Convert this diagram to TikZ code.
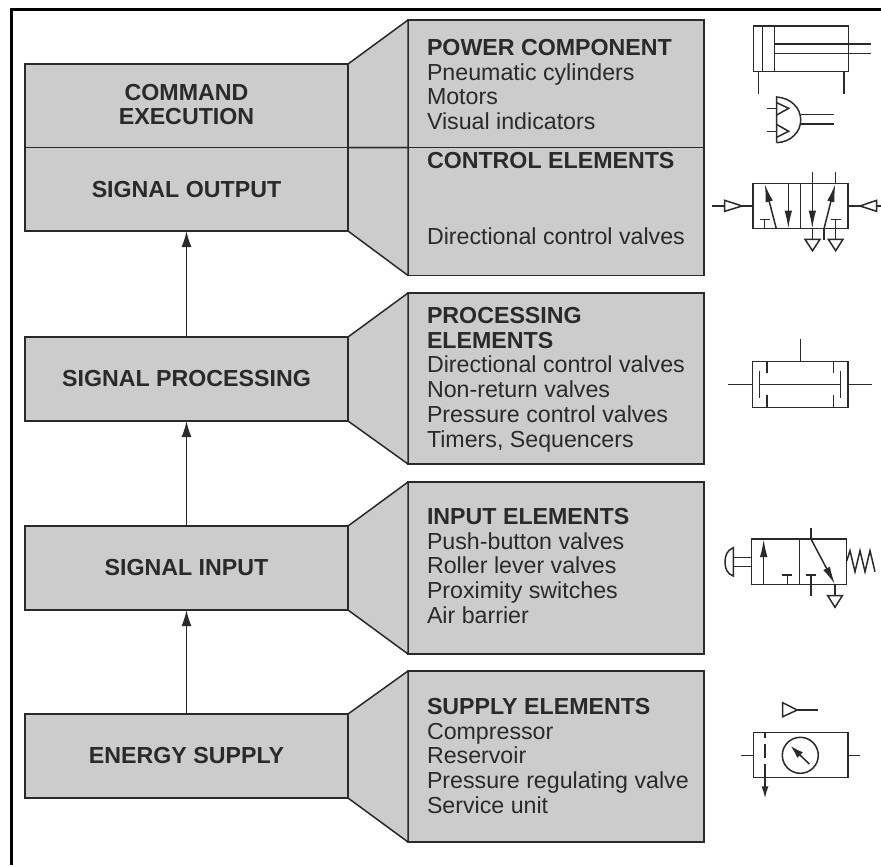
\documentclass[tikz,border=0pt]{standalone}
\usepackage{fontspec}
\setmainfont{Liberation Sans}
\usetikzlibrary{arrows.meta}
\definecolor{boxgray}{HTML}{CCCCCC}
\definecolor{inkdark}{HTML}{2A2A2A}
\tikzset{
  x=1pt,y=-1pt,
  every node/.style={inner sep=0pt,outer sep=0pt,text=inkdark},
  stage/.style={draw=inkdark,line width=1.5pt,fill=boxgray,minimum width=323pt,anchor=north west,align=center,font=\fontsize{23.2}{24.4}\selectfont\bfseries},
  detail/.style={draw=inkdark,line width=1.5pt,fill=boxgray,minimum width=296pt,anchor=north west},
  funnel/.style={draw=inkdark,line width=1.5pt,fill=boxgray,line join=round},
  listing/.style={anchor=north west,align=left,font=\fontsize{23.2}{24.8}\selectfont},
  flow/.style={draw=inkdark,line width=1.5pt,-{Latex[length=16pt,width=10pt]}},
  sym/.style={draw=inkdark,line width=1.5pt,line join=miter},
  head/.style={draw=inkdark,line width=1.5pt,-{Latex[length=18pt,width=7.5pt]}},
}
\begin{document}
\begin{tikzpicture}
\useasboundingbox (0,0) rectangle (881,865);
\fill[white] (0,0) rectangle (881,865);
\draw[black,line width=3pt] (11.5,865) -- (11.5,9) -- (881,9);

% left stages
\node[stage,minimum height=83.5pt] (exec) at (25,64) {\raisebox{3pt}{COMMAND}\\\raisebox{3pt}{EXECUTION}};
\node[stage,minimum height=83.5pt] (out) at (25,147.5) {SIGNAL OUTPUT};
\node[stage,minimum height=84pt] (proc) at (25,337) {SIGNAL PROCESSING};
\node[stage,minimum height=84pt] (inp) at (25,526) {SIGNAL INPUT};
\node[stage,minimum height=84pt] (sup) at (25,714) {ENERGY SUPPLY};

% right detail boxes
\node[detail,minimum height=127.5pt] (dpow) at (408,20) {};
\node[detail,minimum height=128pt] (dctl) at (408,147.5) {};
\node[detail,minimum height=171pt] (dproc) at (408,293) {};
\node[detail,minimum height=172pt] (dinp) at (408,482) {};
\node[detail,minimum height=171pt] (dsup) at (408,671) {};

% funnels
\draw[funnel] (exec.north east) -- (dpow.north west) -- (dpow.south west) -- (exec.south east) -- cycle;
\draw[funnel] (out.north east) -- (dctl.north west) -- (dctl.south west) -- (out.south east) -- cycle;
\draw[funnel] (proc.north east) -- (dproc.north west) -- (dproc.south west) -- (proc.south east) -- cycle;
\draw[funnel] (inp.north east) -- (dinp.north west) -- (dinp.south west) -- (inp.south east) -- cycle;
\draw[funnel] (sup.north east) -- (dsup.north west) -- (dsup.south west) -- (sup.south east) -- cycle;

% flow arrows
\draw[flow] (proc.north) -- (out.south);
\draw[flow] (inp.north) -- (proc.south);
\draw[flow] (sup.north) -- (inp.south);

% listings
\node[listing] (tpow) at (427,39) {\textbf{POWER COMPONENT}\\Pneumatic cylinders\\Motors\\Visual indicators};
\node[listing] (tctl) at (427,152) {\textbf{CONTROL ELEMENTS}\\[51.2pt]Directional control valves};
\node[listing] (tproc) at (427,307) {\textbf{PROCESSING}\\\textbf{ELEMENTS}\\Directional control valves\\Non-return valves\\Pressure control valves\\Timers, Sequencers};
\node[listing] (tinp) at (427,508) {\textbf{INPUT ELEMENTS}\\Push-button valves\\Roller lever valves\\Proximity switches\\Air barrier};
\node[listing] (tsup) at (427,698) {\textbf{SUPPLY ELEMENTS}\\Compressor\\Reservoir\\Pressure regulating valve\\Service unit};

% cylinder
\draw[sym] (753.3,26) rectangle (848.7,71.7);
\draw[sym] (762.7,26) -- (762.7,71.7) (774.7,26) -- (774.7,71.7);
\draw[sym] (774.7,44) -- (870.7,44) (774.7,53.3) -- (870.7,53.3);
\draw[sym] (758.3,71.7) -- (758.3,94.3) (844,71.7) -- (844,94.3);

% two-pressure valve
\draw[sym] (776.7,142.7) -- (776.7,97) .. controls (791,98) and (800.7,108) .. (800.7,120) .. controls (800.7,132) and (791,142) .. (776.7,142.7);
\draw[sym] (800.7,114.7) -- (834,114.7) (800.7,124) -- (834,124);
\draw[sym] (776.7,102.7) -- (788.7,108.3) -- (776.7,115);
\draw[sym] (776.7,124.5) -- (788.7,131.3) -- (776.7,137.3);
\draw[sym] (767,108.3) -- (776.7,108.3) (767,131.3) -- (776.7,131.3);

% 5/2 valve
\draw[sym] (753,183.3) rectangle (848,228.7);
\draw[sym] (800.3,183.3) -- (800.3,228.7);
\draw[sym] (712.3,206) -- (724.7,206) (742,206) -- (753,206);
\draw[sym] (724.7,200.3) -- (742,206) -- (724.7,211.3) -- cycle;
\draw[sym] (848,206) -- (860,206) (876.7,206) -- (881,206);
\draw[sym] (876.7,200.3) -- (860,206) -- (876.7,211.3) -- cycle;
\draw[head] (776.3,228.7) -- (764.7,184);
\draw[head] (788.3,183.3) -- (788.3,228.7);
\draw[sym] (764.7,228.7) -- (764.7,219.3) (759.7,219.3) -- (770,219.3);
\draw[head] (812.3,172) -- (812.3,228.7);
\draw[sym] (812.3,228.7) -- (812.3,239.3);
\draw[sym] (805,239.3) -- (820,239.3) -- (812.5,250.7) -- cycle;
\draw[head] (824,228.7) -- (835.3,184);
\draw[sym] (824,228.7) -- (824,240) (835.3,184) -- (835.3,172);
\draw[sym] (835.7,239.3) -- (835.7,219.3) (830.7,219.3) -- (840.7,219.3);
\draw[sym] (828.3,239.3) -- (843,239.3) -- (835.7,250.7) -- cycle;

% 4/2 processing symbol
\draw[sym] (752.7,361.3) rectangle (848,407.3);
\draw[sym] (800.3,339) -- (800.3,361.3);
\draw[sym] (728.3,384.3) -- (752.7,384.3) (848,384.3) -- (872.3,384.3);
\draw[sym] (759.7,384.3) -- (840.7,384.3);
\draw[sym] (759.7,370.7) -- (759.7,398.3) (840.7,370.7) -- (840.7,398.3);
\draw[sym] (767,361.3) -- (767,373.3) (767,395.3) -- (767,407.3);
\draw[sym] (833.7,361.3) -- (833.7,373.3) (833.7,395.3) -- (833.7,407.3);

% 3/2 push-button valve
\draw[sym] (751.7,539) rectangle (846.7,584.3);
\draw[sym] (799.3,539) -- (799.3,584.3);
\draw[sym] (733,557.3) -- (751.7,557.3) (733,566.7) -- (751.7,566.7);
\draw[sym] (733.3,547.7) .. controls (727,550) and (725,556) .. (725,562) .. controls (725,568) and (727,574) .. (733.3,576) -- cycle;
\draw[head] (763.7,584.3) -- (763.7,539);
\draw[sym] (787.3,584.3) -- (787.3,575) (782.3,575) -- (792.3,575);
\draw[sym] (811,595.7) -- (811,575) (806,575) -- (816,575);
\draw[sym] (811,528.3) -- (811,539);
\draw[head] (811,539) -- (835,584.3);
\draw[sym] (835,584.3) -- (835,595.7);
\draw[sym] (827.7,595.7) -- (842.3,595.7) -- (835,607.3) -- cycle;
\draw[sym] (846.7,561) -- (850,550.7) -- (855,571.7) -- (860,550.7) -- (865,571.7) -- (870,550.7) -- (875,571.7);

% service unit
\draw[sym] (782.7,702.7) -- (797.3,710) -- (782.7,716.7) -- cycle;
\draw[sym] (797.3,710) -- (818.3,710);
\draw[sym] (753.3,732.7) rectangle (848,777.7);
\draw[sym] (741,755.7) -- (753.3,755.7) (848,755.7) -- (860,755.7);
\draw[sym] (765,732.7) -- (765,738) (765,743.5) -- (765,758);
\draw[draw=inkdark,line width=1.5pt,-{Latex[length=12pt,width=7pt]}] (765,763.5) -- (765,798.3);
\draw[sym] (800.3,755.3) circle[radius=18];
\draw[draw=inkdark,line width=1.5pt,-{Latex[length=13pt,width=8pt]}] (809.3,764) -- (790.7,746);
\end{tikzpicture}
\end{document}
